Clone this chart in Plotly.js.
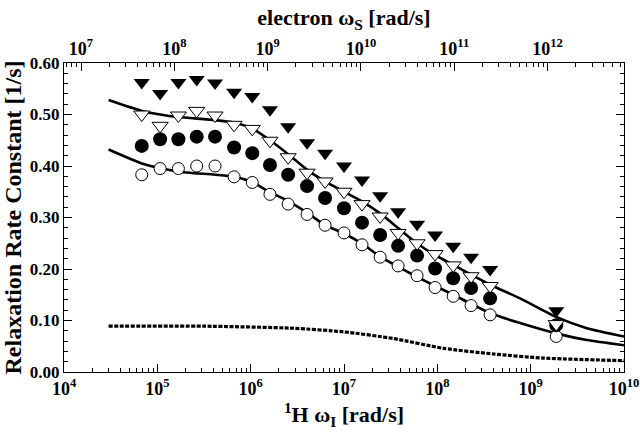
<!DOCTYPE html>
<html>
<head>
<meta charset="utf-8">
<script src="https://cdn.plot.ly/plotly-3.0.1.min.js"></script>
<style>html,body{margin:0;padding:0;background:#fff;}#chart{width:640px;height:438px;}</style>
</head>
<body>
<div id="chart"></div>
<script>
// Measurement frequencies (1H omega_I, rad/s)
const omegaI = [6.8e4, 1.07e5, 1.68e5, 2.64e5, 4.15e5, 6.64e5, 1.04e6, 1.61e6, 2.52e6, 4.02e6, 6.27e6, 1.0e7, 1.56e7, 2.44e7, 3.80e7, 6.07e7, 9.46e7, 1.48e8, 2.30e8, 3.68e8, 1.88e9];
const filledTri  = [0.562,0.541,0.562,0.568,0.561,0.543,0.535,0.509,0.476,0.445,0.425,0.400,0.373,0.342,0.311,0.287,0.266,0.244,0.223,0.199,0.119];
const openTri    = [0.500,0.478,0.498,0.507,0.498,0.480,0.472,0.449,0.417,0.387,0.370,0.350,0.326,0.302,0.270,0.250,0.229,0.207,0.186,0.167,0.093];
const filledCirc = [0.439,0.452,0.452,0.457,0.457,0.436,0.425,0.402,0.383,0.361,0.338,0.318,0.290,0.266,0.245,0.226,0.201,0.182,0.163,0.143,0.091];
const openCirc   = [0.383,0.395,0.395,0.400,0.400,0.379,0.368,0.345,0.326,0.306,0.285,0.270,0.247,0.223,0.206,0.187,0.164,0.147,0.129,0.111,0.069];

// Fitted curves
const curveOmega = [3.0e4, 6.8e4, 1.07e5, 1.68e5, 4.15e5, 6.64e5, 1.03e6, 1.61e6, 2.52e6, 4.06e6, 6.27e6, 1.0e7, 1.57e7, 2.44e7, 3.83e7, 6.03e7, 9.46e7, 1.49e8, 2.25e8, 3.74e8, 7.71e8, 1.875e9, 4.0e9, 1.0e10];
const upperFit = [0.528,0.507,0.500,0.495,0.489,0.484,0.473,0.450,0.423,0.392,0.370,0.350,0.331,0.308,0.279,0.250,0.227,0.208,0.190,0.169,0.143,0.107,0.085,0.069];
const lowerFit = [0.432,0.405,0.396,0.389,0.383,0.379,0.369,0.349,0.332,0.309,0.285,0.269,0.249,0.224,0.204,0.185,0.167,0.150,0.133,0.114,0.095,0.075,0.062,0.052];
const dashOmega = [3.0e4, 3.11e5, 2.87e6, 9.86e6, 3.39e7, 1.16e8, 3.99e8, 1.37e9, 1.0e10];
const dashFit   = [0.089, 0.089, 0.085, 0.078, 0.065, 0.046, 0.035, 0.027, 0.022];

// Axis decades and tick labels
const bottomDecades = [4, 5, 6, 7, 8, 9, 10];
const topDecades = [7, 8, 9, 10, 11, 12];
const ratioSI = 658; // electron / proton frequency ratio

function majorVals(decs) { return decs.map(d => Math.pow(10, d)); }
function majorText(decs) { return decs.map(d => '10<sup>' + d + '</sup>'); }
function minorVals(lo, hi) {
  const v = [];
  for (let d = lo; d <= hi; d++) for (let m = 2; m <= 9; m++) v.push(m * Math.pow(10, d));
  return v;
}

const F = {family: 'Liberation Serif, Times New Roman, serif', color: '#000', weight: 'bold'};
const lineStyle = {color: '#000', width: 2.6, shape: 'spline', smoothing: 0.6};
const traces = [
  {x: curveOmega, y: upperFit, mode: 'lines', line: lineStyle, hoverinfo: 'skip'},
  {x: curveOmega, y: lowerFit, mode: 'lines', line: lineStyle, hoverinfo: 'skip'},
  {x: dashOmega, y: dashFit, mode: 'lines', line: {color: '#000', width: 3.2, dash: '4px,1.5px', shape: 'spline', smoothing: 0.6}, hoverinfo: 'skip'},
  {x: omegaI, y: openCirc, mode: 'markers', marker: {symbol: 'circle', size: 12, color: '#fff', line: {color: '#000', width: 1}}},
  {x: omegaI, y: filledCirc, mode: 'markers', marker: {symbol: 'circle', size: 14, color: '#000', line: {color: '#000', width: 0}}},
  {x: omegaI, y: openTri, mode: 'markers', marker: {symbol: 'triangle-down', size: 14, color: '#fff', line: {color: '#000', width: 1}}},
  {x: omegaI, y: filledTri, mode: 'markers', marker: {symbol: 'triangle-down', size: 14, color: '#000', line: {color: '#000', width: 0}}},
  // same points on the electron-frequency scale (invisible) so the top axis is drawn
  {x: omegaI.map(w => w * ratioSI), y: openCirc, xaxis: 'x2', mode: 'markers', marker: {opacity: 0}, hoverinfo: 'skip'}
];

function logAxis(decs, lo, hi) {
  return {
    type: 'log', showgrid: false, zeroline: false,
    showline: true, linecolor: '#000', linewidth: 1.2,
    tickmode: 'array', tickvals: majorVals(decs), ticktext: majorText(decs),
    ticks: 'inside', ticklen: 8, tickwidth: 1, tickcolor: '#000',
    minor: {tickmode: 'array', tickvals: minorVals(lo, hi), ticks: 'inside', ticklen: 4, tickwidth: 1, tickcolor: '#000', showgrid: false},
    tickfont: Object.assign({}, F, {size: 18})
  };
}

const layout = {
  width: 640, height: 438,
  paper_bgcolor: '#fff', plot_bgcolor: '#fff',
  margin: {l: 64, r: 16, t: 63, b: 66},
  showlegend: false,
  xaxis: Object.assign(logAxis(bottomDecades, 4, 9), {
    range: [3.9995, 10.0005],
    title: {text: '<sup>1</sup>H ω<sub>I</sub> [rad/s]', font: Object.assign({}, F, {size: 22}), standoff: 4}
  }),
  xaxis2: Object.assign(logAxis(topDecades, 6, 12), {
    range: [3.9995 + Math.log10(ratioSI), 10.0005 + Math.log10(ratioSI)],
    overlaying: 'x', side: 'top', anchor: 'y',
    title: {text: 'electron ω<sub>S</sub> [rad/s]', font: Object.assign({}, F, {size: 22}), standoff: 4}
  }),
  yaxis: {
    range: [0, 0.6], dtick: 0.1, tickformat: '.2f', showgrid: false, zeroline: false,
    showline: true, linecolor: '#000', linewidth: 1.2, mirror: 'ticks',
    ticks: 'inside', ticklen: 8, tickwidth: 1, tickcolor: '#000',
    minor: {ticks: 'inside', ticklen: 4, tickwidth: 1, tickcolor: '#000', dtick: 0.02, showgrid: false},
    tickfont: Object.assign({}, F, {size: 17}),
    title: {text: 'Relaxation Rate Constant [1/s]', font: Object.assign({}, F, {size: 24}), standoff: 6}
  }
};

Plotly.newPlot('chart', traces, layout, {staticPlot: true, displayModeBar: false});
</script>
</body>
</html>
